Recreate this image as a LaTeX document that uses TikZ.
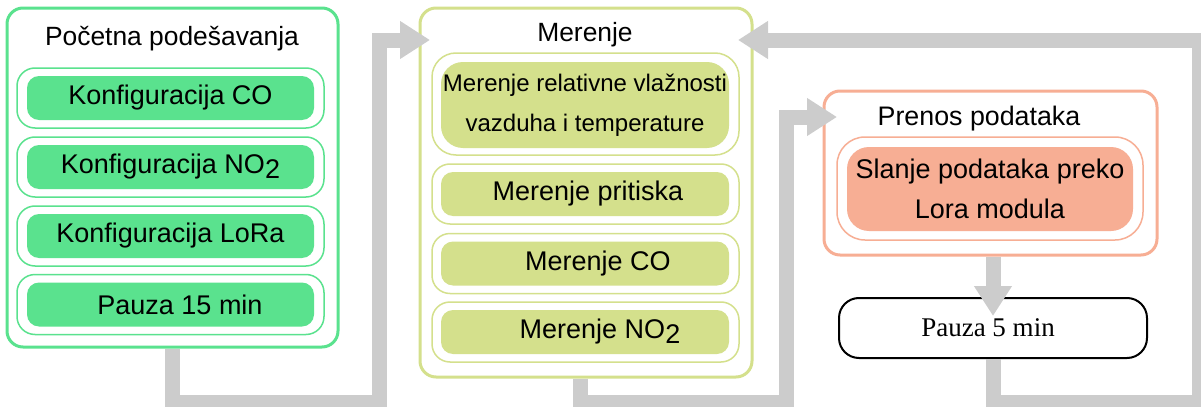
\documentclass[tikz,border=0pt]{standalone}
\usepackage{fontspec}
\setmainfont{Liberation Sans}
\newfontfamily\serifpart{Liberation Serif}
\usetikzlibrary{arrows.meta}
\definecolor{cfggreen}{RGB}{90,226,142}
\definecolor{measolive}{RGB}{212,224,140}
\definecolor{sendsalmon}{RGB}{247,174,148}
\definecolor{flowgray}{RGB}{204,204,204}
\newcommand{\lowsub}[1]{\raisebox{-2.5pt}{#1}}
\tikzset{
  group/.style={draw=#1, line width=1.5pt, rounded corners=8pt, fill=white, inner sep=0pt},
  frame/.style={draw=#1, line width=0.75pt, rounded corners=9pt, fill=white,
    minimum width=153.5pt, minimum height=30pt, inner sep=0pt},
  task/.style={fill=#1, rounded corners=6pt, minimum width=143.5pt, minimum height=22pt,
    inner sep=0pt, align=center, font=\fontsize{13.5}{20}\selectfont},
  title/.style={font=\fontsize{13.2}{15}\selectfont},
  flow/.style={draw=flowgray, line width=7.5pt, -{Triangle[length=15pt,width=18pt]}},
}

\begin{document}
\begin{tikzpicture}[x=0.5pt,y=-0.5pt]
  \clip (0,0) rectangle (1201,407);

  % pocetna podesavanja
  \node[group=cfggreen, minimum width=165.5pt, minimum height=169.5pt] (setup) at (172.5,177.5) {};
  \node[title] (setuptitle) at (172,39) {Početna podešavanja};
  \foreach \y/\name/\txt in {98/cfgco/Konfiguracija CO,
                             167/cfgno/Konfiguracija NO\lowsub{2},
                             236/cfglora/Konfiguracija LoRa,
                             304.5/pause/\hspace*{9.5pt}Pauza 15 min}{
    \node[frame=cfggreen] (f-\name) at (170.5,\y) {};
    \node[task=cfggreen] (\name) at (170.5,\y) {\txt};
  }

  % merenje
  \node[group=measolive, minimum width=166pt, minimum height=184.5pt] (measure) at (586,192.5) {};
  \node[title] (measuretitle) at (585,35) {Merenje};
  \node[frame=measolive, minimum height=51pt, rounded corners=12pt] (f-humid) at (585.5,104) {};
  \node[task=measolive, minimum width=144pt, minimum height=43pt, rounded corners=11pt,
    font=\fontsize{12}{20}\selectfont] (humid) at (585,105)
    {Merenje relativne vlažnosti\\vazduha i temperature};
  \foreach \y/\name/\txt in {194/press/\hspace*{3pt}Merenje pritiska,
                             263.5/mco/\hspace*{13pt}Merenje CO,
                             332/mno/\hspace*{15pt}Merenje NO\lowsub{2}}{
    \node[frame=measolive] (f-\name) at (585.5,\y) {};
    \node[task=measolive, minimum width=144pt] (\name) at (585,\y) {\txt};
  }

  % prenos podataka
  \node[group=sendsalmon, minimum width=166.5pt, minimum height=82pt] (send) at (990.5,173) {};
  \node[title, font=\fontsize{13.4}{15}\selectfont] (sendtitle) at (979,119) {Prenos podataka};
  \node[frame=sendsalmon, minimum width=153pt, minimum height=51.5pt, rounded corners=14pt] (f-lora) at (990,188.5) {};
  \node[task=sendsalmon, minimum width=143pt, minimum height=42pt, rounded corners=11pt] (lora) at (990,189)
    {Slanje podataka preko\\Lora modula};

  \node[draw=black, line width=1pt, rounded corners=10pt, minimum width=154pt, minimum height=30pt,
    inner sep=0pt, font=\serifpart\fontsize{13.5}{16}\selectfont] (wait) at (993,328)
    {\raisebox{-1.5pt}{Pauza 5 min}\hspace*{5pt}};

  % tokovi
  \coordinate (in1) at (430,40);
  \coordinate (in2) at (837,117);
  \coordinate (in3) at (738,40);
  \coordinate (turn1) at (379.5,402);
  \coordinate (turn2) at (786,402);
  \coordinate (turn3) at (1199.5,402);
  \draw[flow] (setup.south) |- (turn1) |- (in1);
  \draw[flow] ([xshift=-3pt]measure.south) |- (turn2) |- (in2);
  \draw[flow] (send.south -| wait.north) -- ([yshift=-9.5pt]wait.north);
  \draw[flow] (wait.south) |- (turn3) |- (in3);
\end{tikzpicture}
\end{document}
